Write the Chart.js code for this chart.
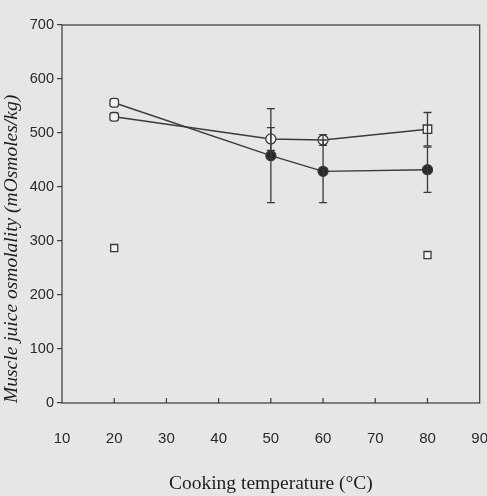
<!DOCTYPE html>
<html>
<head>
<meta charset="utf-8">
<script src="https://cdn.jsdelivr.net/npm/chart.js@4.4.1/dist/chart.umd.min.js"></script>
<style>
  html, body { margin: 0; padding: 0; background: #e6e6e4; }
  #wrap { width: 487px; height: 496px; position: relative; }
</style>
</head>
<body>
<div id="wrap"><canvas id="c" width="487" height="496"></canvas></div>
<script>
// Data
const temperatures = [20, 50, 60, 80];
const openSeries = [530, 489, 487, 507];
const openErrors = [0, 21, 10, 31];
const filledSeries = [556, 458, 429, 432];
const filledErrors = [0, 87, 58, 42];
const extraTemps = [20, 80];
const extraValues = [287, 274];
const xTicks = [10, 20, 30, 40, 50, 60, 70, 80, 90];
const yTicks = [0, 100, 200, 300, 400, 500, 600, 700];

const ink = '#3a3a3a';

const errorBars = {
  id: 'errorBars',
  afterDatasetsDraw(chart) {
    const { ctx, scales: { x, y } } = chart;
    const sets = [[openSeries, openErrors], [filledSeries, filledErrors]];
    ctx.save();
    ctx.strokeStyle = ink;
    ctx.lineWidth = 1.3;
    sets.forEach(([vals, errs]) => {
      vals.forEach((v, i) => {
        const e = errs[i];
        if (!e) return;
        const px = x.getPixelForValue(temperatures[i]);
        const top = y.getPixelForValue(v + e);
        const bot = y.getPixelForValue(v - e);
        ctx.beginPath();
        ctx.moveTo(px, top); ctx.lineTo(px, bot);
        ctx.moveTo(px - 4, top); ctx.lineTo(px + 4, top);
        ctx.moveTo(px - 4, bot); ctx.lineTo(px + 4, bot);
        ctx.stroke();
      });
    });
    ctx.restore();
  }
};

const frame = {
  id: 'frame',
  beforeDraw(chart) {
    const { ctx } = chart;
    ctx.save();
    ctx.fillStyle = '#e6e6e4';
    ctx.fillRect(0, 0, chart.width, chart.height);
    ctx.restore();
  },
  afterDraw(chart) {
    const { ctx, chartArea: a, scales: { x } } = chart;
    ctx.save();
    ctx.strokeStyle = ink;
    ctx.lineWidth = 1.2;
    ctx.strokeRect(a.left, a.top, a.right - a.left, a.bottom - a.top);
    ctx.beginPath();
    x.ticks.forEach((t, i) => {
      const px = x.getPixelForTick(i);
      if (t.value === 10 || t.value === 90) return;
      ctx.moveTo(px, a.bottom); ctx.lineTo(px, a.bottom - 5);
    });
    ctx.stroke();
    ctx.restore();
  }
};

new Chart(document.getElementById('c'), {
  type: 'line',
  data: {
    datasets: [
      {
        label: 'filled',
        data: temperatures.map((t, i) => ({ x: t, y: filledSeries[i] })),
        borderColor: ink,
        borderWidth: 1.4,
        pointStyle: ['rectRounded', 'circle', 'circle', 'circle'],
        pointRadius: [5, 5, 5, 5],
        pointBackgroundColor: ['#f2f2f0', '#2a2a2a', '#2a2a2a', '#2a2a2a'],
        pointBorderColor: ink,
        pointBorderWidth: 1.3,
        tension: 0,
        fill: false
      },
      {
        label: 'open',
        data: temperatures.map((t, i) => ({ x: t, y: openSeries[i] })),
        borderColor: ink,
        borderWidth: 1.4,
        pointStyle: ['rectRounded', 'circle', 'circle', 'rect'],
        pointRadius: [5, 5, 5, 6],
        pointBackgroundColor: '#f2f2f0',
        pointBorderColor: ink,
        pointBorderWidth: 1.3,
        tension: 0,
        fill: false
      },
      {
        label: 'extra',
        data: extraTemps.map((t, i) => ({ x: t, y: extraValues[i] })),
        showLine: false,
        pointStyle: 'rect',
        pointRadius: 5,
        pointBackgroundColor: '#f2f2f0',
        pointBorderColor: ink,
        pointBorderWidth: 1.3
      }
    ]
  },
  options: {
    responsive: false,
    animation: false,
    layout: { padding: { top: 25, right: 7, left: 0, bottom: 0 } },
    plugins: { legend: { display: false }, tooltip: { enabled: false } },
    scales: {
      x: {
        type: 'linear',
        min: 10, max: 90,
        afterBuildTicks(scale) { scale.ticks = xTicks.map(v => ({ value: v })); },
        afterFit(scale) { scale.height = 93; scale.paddingLeft = 0; scale.paddingRight = 0; },
        grid: { display: false, drawTicks: false },
        border: { display: false },
        ticks: {
          padding: 27,
          color: '#2a2a2a',
          font: { family: 'Liberation Sans', size: 15 },
          maxRotation: 0
        },
        title: {
          display: true,
          text: 'Cooking temperature (\u00B0C)',
          color: '#1e1e1e',
          font: { family: 'Liberation Serif', size: 19.5 },
          padding: { top: 12, bottom: 0 }
        }
      },
      y: {
        type: 'linear',
        min: 0, max: 700,
        afterBuildTicks(scale) { scale.ticks = yTicks.map(v => ({ value: v })); },
        afterFit(scale) { scale.width = 62; scale.paddingTop = 0; scale.paddingBottom = 0; },
        grid: { drawOnChartArea: false, tickLength: 5, color: ink, lineWidth: 1.2 },
        border: { display: false },
        ticks: {
          padding: 3,
          color: '#2a2a2a',
          font: { family: 'Liberation Sans', size: 14.5 }
        },
        title: {
          display: true,
          align: 'start',
          text: 'Muscle juice osmolality (mOsmoles/kg)',
          color: '#1e1e1e',
          font: { family: 'Liberation Serif', size: 19.5, style: 'italic' },
          padding: { top: 0, bottom: 0 }
        }
      }
    }
  },
  plugins: [frame, errorBars]
});
</script>
</body>
</html>
